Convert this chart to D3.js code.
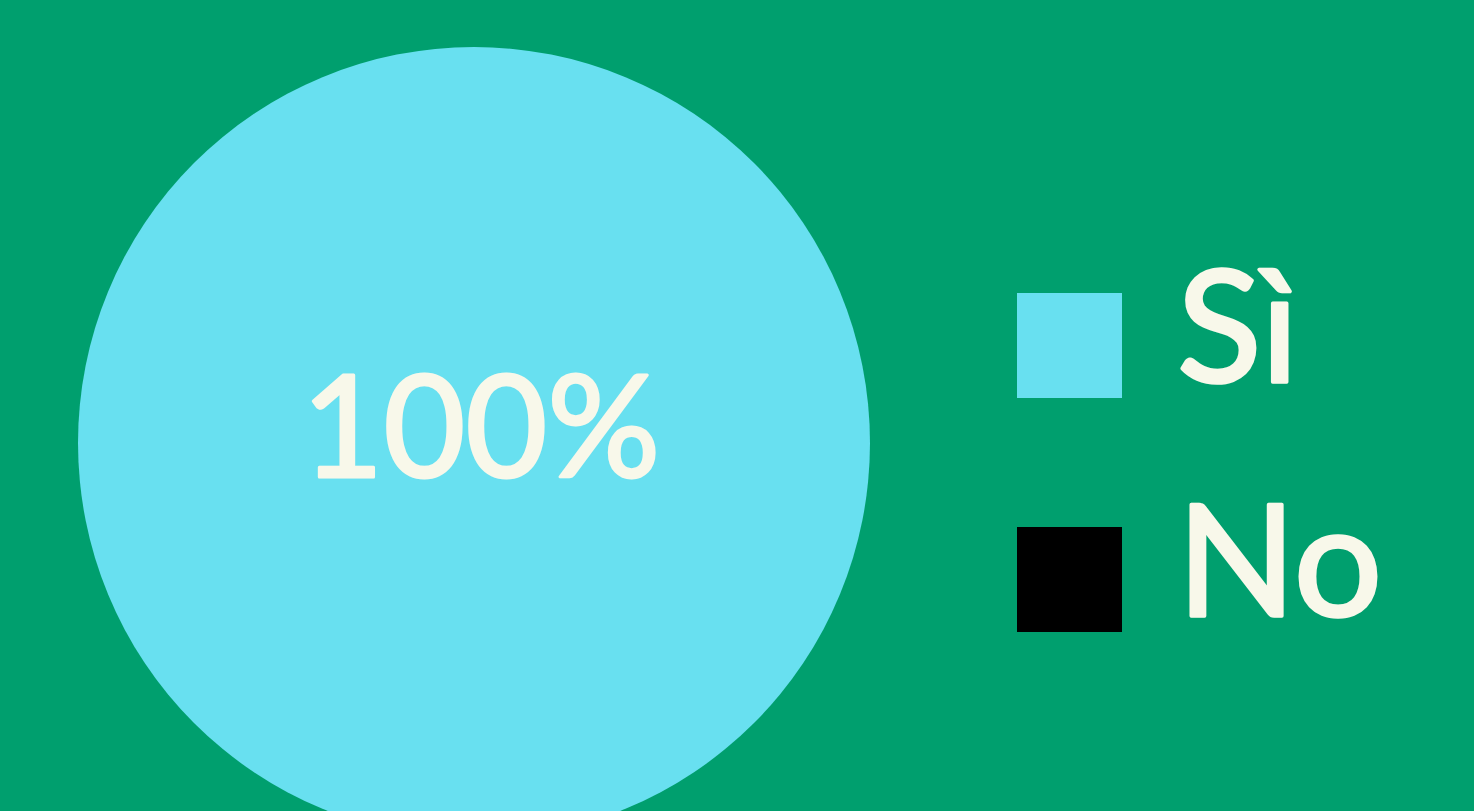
<!DOCTYPE html>
<html><head><meta charset="utf-8">
<script src="https://cdn.jsdelivr.net/npm/d3@7"></script>
<style>html,body{margin:0;padding:0;background:#009F6E;overflow:hidden}</style>
</head><body>
<svg id="c" width="1474" height="811"></svg>
<script>
const categories = ["Sì", "No"];
const values = [100, 0];
const colors = ["#68E0F0", "#000000"];

const W = 1474, H = 811;
const svg = d3.select("#c");
svg.append("rect").attr("width", W).attr("height", H).attr("fill", "#009F6E");

const cx = 474, cy = 443, r = 396;
const pie = d3.pie().sort(null).value(d => d.v);
const data = categories.map((c, i) => ({c, v: values[i], col: colors[i]}));
const arcs = pie(data);
const arc = d3.arc().innerRadius(0).outerRadius(r);
const g = svg.append("g").attr("transform", `translate(${cx},${cy})`);
g.selectAll("path").data(arcs).join("path")
  .attr("d", arc).attr("fill", d => d.data.col);

const total = d3.sum(values);
const font = "Lato, 'Noto Sans', sans-serif";
const txt = "#F8F8EA";
g.selectAll("text.pct").data(arcs.filter(d => d.data.v > 0)).join("text")
  .attr("class", "pct")
  .attr("x", d => d.data.v === total ? 7 : arc.centroid(d)[0])
  .attr("y", d => d.data.v === total ? 34 : arc.centroid(d)[1])
  .attr("text-anchor", "middle")
  .attr("font-family", font).attr("font-size", 141).attr("font-weight", 400)
  .attr("fill", txt).attr("stroke", txt).attr("stroke-width", 3).attr("stroke-linejoin", "round")
  .text(d => Math.round(d.data.v / total * 100) + "%");

const legend = svg.append("g");
const ly = d3.scalePoint().domain(categories).range([293, 527]);
const item = legend.selectAll("g").data(data).join("g")
  .attr("transform", d => `translate(1017,${ly(d.c)})`);
item.append("rect").attr("width", 105).attr("height", 105).attr("fill", d => d.col);
item.append("text").attr("x", 160).attr("y", 89)
  .attr("font-family", font).attr("font-size", 156)
  .attr("fill", txt).attr("stroke", txt).attr("stroke-width", 3.5).attr("stroke-linejoin", "round")
  .text(d => d.c);
</script>
</body></html>
